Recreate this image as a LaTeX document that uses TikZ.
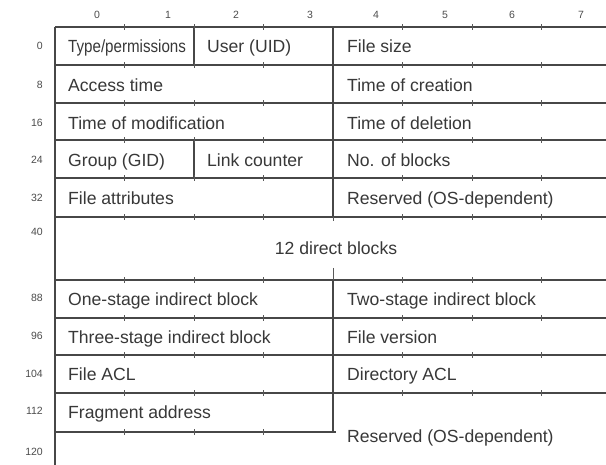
\documentclass[tikz,border=0pt]{standalone}
\usepackage{fontspec}
\setmainfont{Liberation Sans}
\begin{document}
\begin{tikzpicture}[x=1pt,y=-1pt,
  grid/.style={draw=black!72,line width=1.1pt},
  tick/.style={draw=black!65,line width=0.8pt},
  cell/.style={anchor=west,inner sep=0pt,text height=14.5pt,text depth=1.5pt,text=black!78,font=\fontsize{17.6}{20}\selectfont},
  rowlab/.style={anchor=east,inner sep=0pt,text height=7.5pt,text depth=0pt,text=black!70,font=\fontsize{10.5}{12}\selectfont},
  collab/.style={anchor=center,inner sep=0pt,text height=7.5pt,text depth=0pt,text=black!70,font=\fontsize{10.5}{12}\selectfont}]
\useasboundingbox (0,0) rectangle (606,465);
\clip (0,0) rectangle (606,465);
\fill[white] (0,0) rectangle (606,465);
% column headers
\foreach \i/\x in {0/97,1/168,2/236,3/310,4/376,5/445,6/512,7/581}
  \node[collab] (h\i) at (\x,15) {\i};
% row labels
\foreach \n/\y in {0/46,8/85,16/123,24/160,32/198,40/232,88/298,96/336,104/374,112/411,120/452}
  \node[rowlab] (r\n) at (43,\y) {\n};
% horizontal lines (full width)
\foreach \y in {27,65,103,140,178,217,280,318,355,393}
  \draw[grid] (55,\y) -- (612,\y);
\draw[grid] (55,432) -- (336,432);
% verticals
\draw[grid] (55,27) -- (55,466);
\draw[grid] (333,27) -- (333,217);
\draw[grid] (333,280) -- (333,432);
\draw[grid] (194,27) -- (194,65);
\draw[grid] (194,140) -- (194,178);
% tick marks on horizontal lines
\foreach \y in {27,65,103,140,178,217,280,318,355,393}
  \foreach \x in {124.5,194,263.5,402.5,472,541.5}
    \draw[tick] (\x,\y-2.5) -- (\x,\y+3.5);
\foreach \x in {124.5,194,263.5}
  \draw[tick] (\x,432-2.5) -- (\x,432+3.5);
\draw[tick] (333,217) -- (333,221);
\draw[tick] (333,268) -- (333,280);
% cell texts
\node[cell] (tp) at (68,46) {\scalebox{0.86}[1]{Type/permissions}};
\node[cell] (uid) at (207,46) {User (UID)};
\node[cell] (fs) at (347,46) {File size};
\node[cell] (at) at (68,85) {Access time};
\node[cell] (tc) at (347,85) {Time of creation};
\node[cell] (tm) at (68,123) {Time of modification};
\node[cell] (td) at (347,123) {Time of deletion};
\node[cell] (gid) at (68,160) {Group (GID)};
\node[cell] (lc) at (207,160) {Link counter};
\node[cell] (nb) at (347,160) {No. of blocks};
\node[cell] (fa) at (68,198) {File attributes};
\node[cell] (rs1) at (347,198) {Reserved (OS-dependent)};
\node[cell,anchor=center] (db) at (336,248) {12 direct blocks};
\node[cell] (ib1) at (68,299) {One-stage indirect block};
\node[cell] (ib2) at (347,299) {Two-stage indirect block};
\node[cell] (ib3) at (68,337) {Three-stage indirect block};
\node[cell] (fv) at (347,337) {File version};
\node[cell] (facl) at (68,374) {File ACL};
\node[cell] (dacl) at (347,374) {Directory ACL};
\node[cell] (fra) at (68,412) {Fragment address};
\node[cell] (rs2) at (347,436) {Reserved (OS-dependent)};
\end{tikzpicture}
\end{document}
